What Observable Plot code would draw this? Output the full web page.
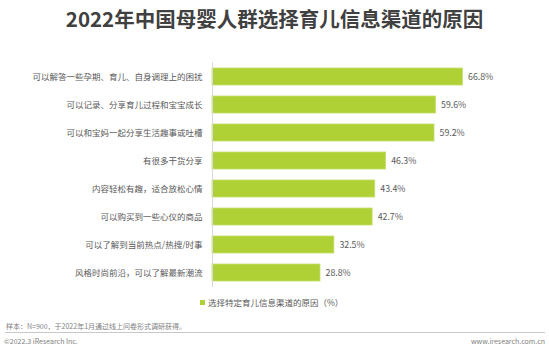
<!DOCTYPE html>
<html><head><meta charset="utf-8">
<script src="https://cdn.jsdelivr.net/npm/d3@7"></script>
<script src="https://cdn.jsdelivr.net/npm/@observablehq/plot@0.6"></script>
<style>
body{margin:0;background:#fff;}
#wrap{position:relative;width:549px;height:351px;overflow:hidden;font-family:"Noto Sans CJK SC","Noto Sans",sans-serif;background:#fff;}
#title{height:52px;width:549px;text-align:center;font-size:20.5px;font-weight:bold;color:#404040;line-height:37px;white-space:nowrap;}
#chart svg{display:block;}
.legend{position:absolute;left:200px;top:296px;font-size:8.5px;color:#595959;line-height:12px;white-space:nowrap;}
.legend .sw{display:inline-block;width:5px;height:5px;background:#afd135;margin-right:3px;vertical-align:1px;}
.note{position:absolute;left:6px;top:321px;font-size:7px;line-height:10px;color:#808080;white-space:nowrap;}
.sep{position:absolute;left:5px;width:540px;top:332px;height:0;border-top:1px solid #c8c8c8;}
.copy{position:absolute;left:4px;top:335.5px;font-size:7px;line-height:10px;color:#808080;white-space:nowrap;}
.www{position:absolute;right:4px;top:335.5px;font-size:7px;line-height:10px;color:#808080;white-space:nowrap;}
</style>
</head><body>
<div id="wrap">
  <div id="title"></div>
  <div id="chart"></div>
  <div class="legend"><span class="sw"></span><span id="legendText"></span></div>
  <div class="note" id="note"></div>
  <div class="sep"></div>
  <div class="copy" id="copy"></div>
  <div class="www" id="www"></div>
</div>
<script>
const titleText = "2022年中国母婴人群选择育儿信息渠道的原因";
const categories = [
  "可以解答一些孕期、育儿、自身调理上的困扰",
  "可以记录、分享育儿过程和宝宝成长",
  "可以和宝妈一起分享生活趣事或吐槽",
  "有很多干货分享",
  "内容轻松有趣，适合放松心情",
  "可以购买到一些心仪的商品",
  "可以了解到当前热点/热搜/时事",
  "风格时尚前沿，可以了解最新潮流"
];
const values = [66.8, 59.6, 59.2, 46.3, 43.4, 42.7, 32.5, 28.8];
const seriesName = "选择特定育儿信息渠道的原因（%）";
const noteText = "样本：N=900，于2022年1月通过线上问卷形式调研获得。";
const copyText = "©2022.3 iResearch Inc.";
const wwwText = "www.iresearch.com.cn";

document.getElementById("title").textContent = titleText;
document.getElementById("legendText").textContent = seriesName;
document.getElementById("note").textContent = noteText;
document.getElementById("copy").textContent = copyText;
document.getElementById("www").textContent = wwwText;

const data = categories.map((c, i) => ({category: c, value: values[i]}));

const chart = Plot.plot({
  width: 549,
  height: 245,
  marginTop: 10,
  marginBottom: 10,
  marginLeft: 212,
  marginRight: 37,
  style: {fontFamily: '"Noto Sans CJK SC","Noto Sans",sans-serif', background: "#fff"},
  x: {domain: [0, 80], axis: null},
  y: {domain: categories, paddingInner: 0.4, paddingOuter: 0.2, label: null},
  marks: [
    Plot.barX(data, {x: "value", y: "category", fill: "#afd135", stroke: "#c4df6a", strokeWidth: 0.8}),
    Plot.ruleX([0], {stroke: "#d9d9d9", strokeWidth: 1}),
    Plot.text(data, {x: "value", y: "category", text: d => d.value.toFixed(1) + "%", dx: 5, textAnchor: "start", fill: "#595959", fontSize: 8.8}),
    Plot.axisY({tickSize: 0, tickPadding: 10, fontSize: 8.5, color: "#595959", label: null})
  ]
});
document.getElementById("chart").appendChild(chart);
</script>
</body></html>
